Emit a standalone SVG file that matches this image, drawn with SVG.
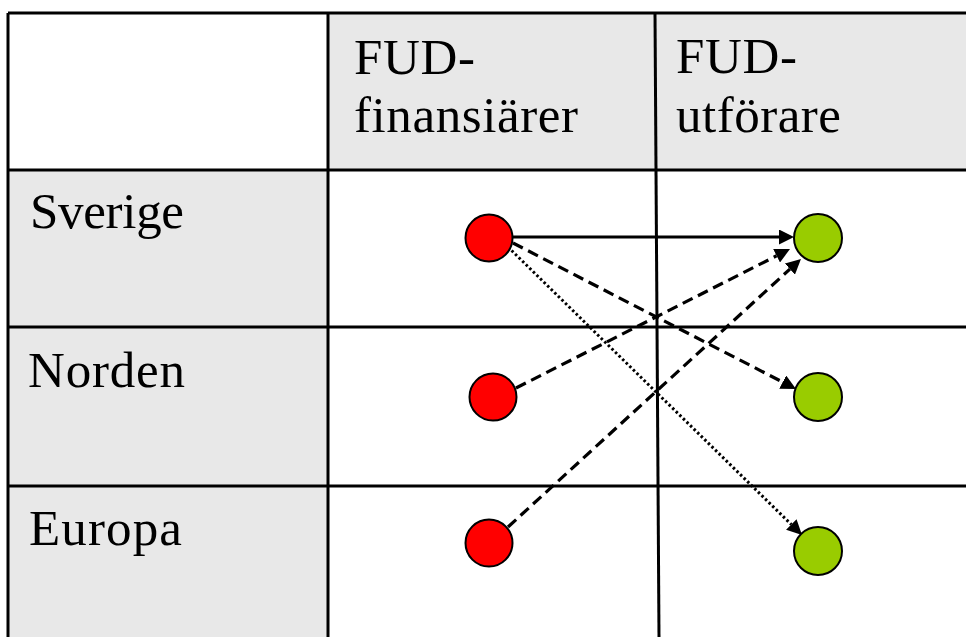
<svg xmlns="http://www.w3.org/2000/svg" width="966" height="637" viewBox="0 0 966 637">
<style>
.grid{stroke:#000;stroke-width:3;fill:none}
.lbl{font-family:"Liberation Serif","Times New Roman",serif;font-size:51px;fill:#000}
.fin{fill:#ff0000;stroke:#000;stroke-width:2}
.utf{fill:#99cc00;stroke:#000;stroke-width:2}
.con{stroke:#000;fill:none}
.solid{stroke-width:3}
.dash{stroke-width:3.2;stroke-dasharray:11 6}
.dot{stroke-width:3;stroke-dasharray:2.5 2.5}
</style>
<defs>
<marker id="ah" markerUnits="userSpaceOnUse" viewBox="0 0 15 15" refX="0" refY="7.5" markerWidth="15" markerHeight="15" orient="auto">
<path d="M0,0 L15,7.5 L0,15 z" fill="#000"/>
</marker>
</defs>
<rect x="0" y="0" width="966" height="637" fill="#fff"/>
<g id="table">
<rect x="328" y="13" width="638" height="157" fill="#e8e8e8"/>
<rect x="8" y="170" width="320" height="467" fill="#e8e8e8"/>
<line class="grid" x1="8" y1="13" x2="966" y2="13"/>
<line class="grid" x1="8" y1="170" x2="966" y2="170"/>
<line class="grid" x1="8" y1="327" x2="966" y2="327"/>
<line class="grid" x1="8" y1="486" x2="966" y2="486"/>
<line class="grid" x1="8" y1="13" x2="8" y2="637"/>
<line class="grid" x1="328" y1="13" x2="328" y2="637"/>
<line class="grid" x1="655" y1="13" x2="659" y2="637"/>
</g>
<g id="headers">
<text class="lbl" x="354" y="74" textLength="121">FUD-</text>
<text class="lbl" x="354" y="132" textLength="224">finansiärer</text>
<text class="lbl" x="676" y="73" textLength="121">FUD-</text>
<text class="lbl" x="676" y="132" textLength="165">utförare</text>
<text class="lbl" x="30" y="228" textLength="154">Sverige</text>
<text class="lbl" x="28" y="387" textLength="157">Norden</text>
<text class="lbl" x="29" y="545" textLength="153">Europa</text>
</g>
<g id="connectors">
<line class="con solid" x1="512" y1="237" x2="779" y2="237" marker-end="url(#ah)"/>
<line class="con dash" x1="513" y1="243" x2="782.7" y2="382.1" marker-end="url(#ah)"/>
<line class="con dot" x1="508" y1="247" x2="791.3" y2="524.5" marker-end="url(#ah)"/>
<line class="con dash" x1="516" y1="388" x2="776.6" y2="255.8" marker-end="url(#ah)"/>
<line class="con dash" x1="508" y1="527" x2="789.9" y2="269.1" marker-end="url(#ah)"/>
</g>
<g id="fin-sverige"><circle class="fin" cx="489" cy="238" r="23.5"/></g>
<g id="fin-norden"><circle class="fin" cx="493" cy="397" r="23.5"/></g>
<g id="fin-europa"><circle class="fin" cx="489" cy="543" r="23.5"/></g>
<g id="utf-sverige"><circle class="utf" cx="818" cy="238" r="24"/></g>
<g id="utf-norden"><circle class="utf" cx="818" cy="397" r="24"/></g>
<g id="utf-europa"><circle class="utf" cx="818" cy="551" r="24"/></g>
</svg>
